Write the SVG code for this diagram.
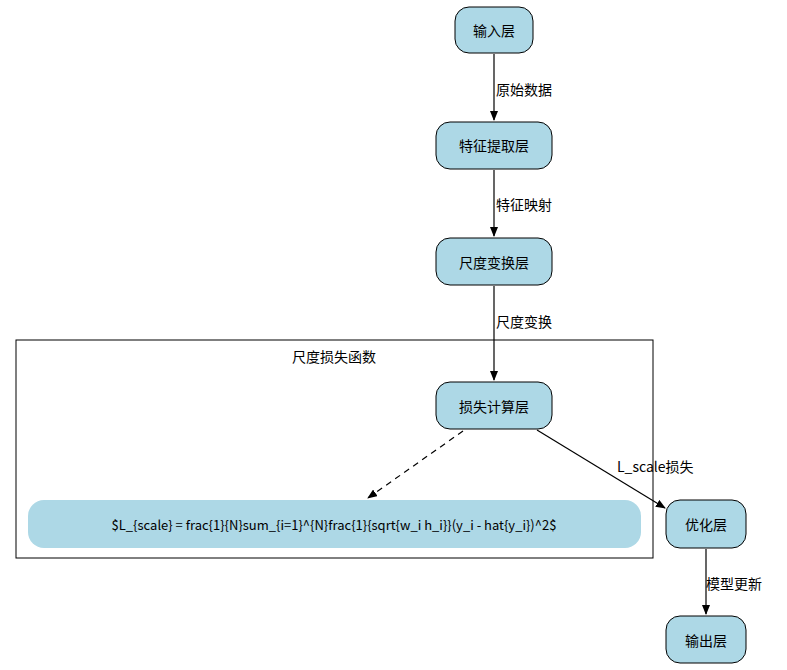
<svg xmlns="http://www.w3.org/2000/svg" width="787" height="670" viewBox="0 0 787 670">
<style>
text{font-family:"Noto Sans CJK SC","DejaVu Sans",sans-serif;font-size:14px;fill:#000}
.n{fill:#add8e6;stroke:#000;stroke-width:1}
.c{text-anchor:middle;dominant-baseline:central}
.e{stroke:#000;stroke-width:1.2;fill:none}
</style>
<defs><marker id="a" markerWidth="10" markerHeight="8" refX="9" refY="4" orient="auto" markerUnits="userSpaceOnUse"><path d="M0,0L10,4L0,8z" fill="#000"/></marker></defs>
<rect width="787" height="670" fill="#fff"/>
<g id="cluster"><rect x="16" y="340" width="637" height="218" fill="none" stroke="#000"/><text x="334" y="356" class="c">尺度损失函数</text></g>
<g id="edges">
<path class="e" d="M494,54V120" marker-end="url(#a)"/><text x="496" y="89" dominant-baseline="central">原始数据</text>
<path class="e" d="M494,170V236" marker-end="url(#a)"/><text x="496" y="204" dominant-baseline="central">特征映射</text>
<path class="e" d="M494,286V380" marker-end="url(#a)"/><text x="496" y="321" dominant-baseline="central">尺度变换</text>
<path class="e" d="M463,431L368,498" stroke-dasharray="6,5" marker-end="url(#a)"/>
<path class="e" d="M537,430L665,508" marker-end="url(#a)"/><text x="617" y="466" dominant-baseline="central">L_scale损失</text>
<path class="e" d="M706,549V614" marker-end="url(#a)"/><text x="706" y="583" dominant-baseline="central">模型更新</text>
</g>
<g id="input"><rect class="n" x="455" y="7" width="78" height="46" rx="14"/><text x="494" y="30" class="c">输入层</text></g>
<g id="feat"><rect class="n" x="436" y="122" width="116" height="47" rx="14"/><text x="494" y="145" class="c">特征提取层</text></g>
<g id="scale"><rect class="n" x="436" y="238" width="116" height="47" rx="14"/><text x="494" y="262" class="c">尺度变换层</text></g>
<g id="loss"><rect class="n" x="436" y="382" width="116" height="47" rx="14"/><text x="494" y="406" class="c">损失计算层</text></g>
<g id="formula"><rect x="28" y="500" width="613" height="48" rx="16" fill="#add8e6"/><text x="334" y="524" class="c" style="font-size:13px">$L_{scale} = frac{1}{N}sum_{i=1}^{N}frac{1}{sqrt{w_i h_i}}(y_i - hat{y_i})^2$</text></g>
<g id="opt"><rect class="n" x="666" y="500" width="80" height="48" rx="14"/><text x="706" y="524" class="c">优化层</text></g>
<g id="out"><rect class="n" x="666" y="616" width="80" height="47" rx="14"/><text x="706" y="640" class="c">输出层</text></g>
</svg>
